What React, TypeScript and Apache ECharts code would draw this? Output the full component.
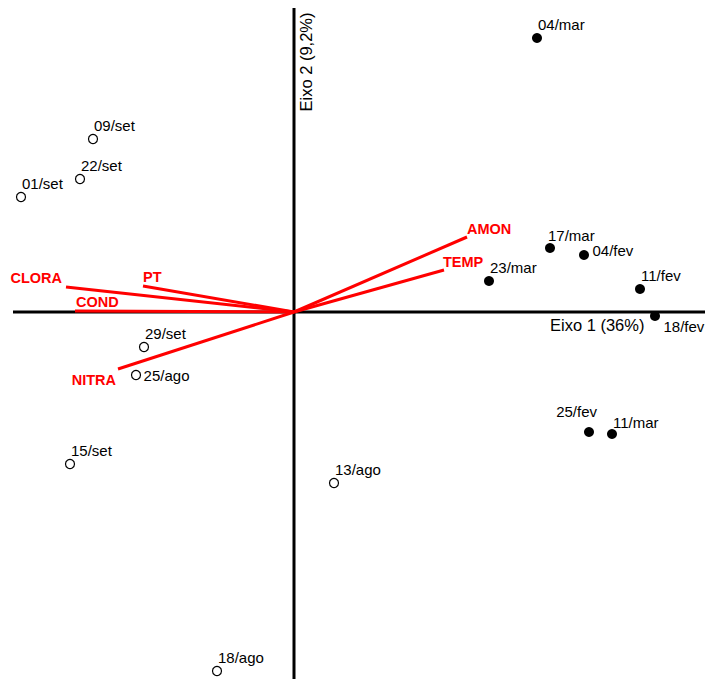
import React, { useEffect, useRef } from "react";
import * as echarts from "echarts";

// Sample scores (Eixo 1, Eixo 2)
const openNames = ["09/set", "22/set", "01/set", "29/set", "25/ago", "15/set", "13/ago", "18/ago"];
const openX = [-2.01, -2.14, -2.73, -1.5, -1.58, -2.24, 0.4, -0.77];
const openY = [1.73, 1.33, 1.15, -0.35, -0.63, -1.52, -1.71, -3.59];

const filledNames = ["04/mar", "17/mar", "04/fev", "23/mar", "11/fev", "18/fev", "25/fev", "11/mar"];
const filledX = [2.43, 2.56, 2.9, 1.95, 3.46, 3.61, 2.95, 3.18];
const filledY = [2.74, 0.64, 0.57, 0.31, 0.23, -0.04, -1.2, -1.22];

// Variable vectors
const varNames = ["CLORA", "PT", "COND", "NITRA", "AMON", "TEMP"];
const varX = [-2.28, -1.51, -2.19, -1.76, 1.73, 1.5];
const varY = [0.25, 0.26, 0.01, -0.57, 0.75, 0.42];

// Axis extents
const xRange = [-2.94, 4.11];
const yRange = [-3.67, 3.12];
const hAxisLine = [[-2.81, 0], [4.11, 0]];
const vAxisLine = [[0, 3.04], [0, -3.67]];

const axisTitles = ["Eixo 1 (36%)", "Eixo 2 (9,2%)"];

const FONT = "'Liberation Sans', Arial, sans-serif";

// label placements (style, kept apart from data)
const pointLabelStyle: Record<string, any> = {
  "25/ago": { position: "right", distance: 2.5, align: "left", offset: [0, 0] },
  "04/fev": { position: "right", distance: 3.5, align: "left", offset: [0, -5] },
  "18/fev": { position: "right", distance: 3.5, align: "left", offset: [0, 10] },
  "25/fev": { position: "top", distance: 1, align: "right", offset: [8, -7] },
  "11/mar": { position: "top", distance: 1, align: "left", offset: [1, 2] },
  "17/mar": { position: "top", distance: 1, align: "left", offset: [-2, 1] },
};
const defaultPointLabel = { position: "top", distance: 1, align: "left", offset: [1, 0] };

const varLabelStyle: Record<string, any> = {
  CLORA: { position: "top", align: "right", offset: [-4, -2] },
  PT: { position: "top", align: "left", offset: [0, -2] },
  COND: { position: "top", align: "left", offset: [1, -2] },
  NITRA: { position: "bottom", align: "right", offset: [-2, 3] },
  AMON: { position: "top", align: "left", offset: [0, -1] },
  TEMP: { position: "top", align: "left", offset: [-1, -1] },
};

function pointData(names: string[], xs: number[], ys: number[]) {
  return names.map((n, i) => {
    const ls = pointLabelStyle[n] || defaultPointLabel;
    return {
      name: n,
      value: [xs[i], ys[i]],
      label: {
        show: true,
        formatter: n,
        position: ls.position,
        distance: ls.distance,
        align: ls.align,
        verticalAlign: ls.position === "top" ? "bottom" : "middle",
        offset: ls.offset,
        color: "#000",
        opacity: 1,
        fontSize: 15,
        fontFamily: FONT,
      },
    };
  });
}

export default function App() {
  const ref = useRef<HTMLDivElement>(null);
  useEffect(() => {
    document.body.style.margin = "0";
    if (!ref.current) return;
    const chart = echarts.init(ref.current, null, { renderer: "svg" });

    const vectorSeries = varNames.map((n, i) => ({
      type: "line",
      name: n,
      data: [[0, 0], [varX[i], varY[i]]],
      symbol: "none",
      lineStyle: { color: "#ff0000", width: 3, opacity: 1 },
      z: 3,
      silent: true,
    }));

    const option: any = {
      animation: false,
      backgroundColor: "#ffffff",
      grid: { left: 0, right: 0, top: 0, bottom: 0, containLabel: false },
      xAxis: { type: "value", min: xRange[0], max: xRange[1], show: false },
      yAxis: { type: "value", min: yRange[0], max: yRange[1], show: false },
      graphic: [
        {
          type: "text",
          x: 550,
          y: 325,
          style: {
            text: axisTitles[0],
            fontSize: 16.5,
            fontFamily: FONT,
            fill: "#000",
            align: "left",
            verticalAlign: "middle",
          },
          z: 10,
        },
        {
          type: "text",
          x: 306,
          y: 62,
          rotation: Math.PI / 2,
          style: {
            text: axisTitles[1],
            fontSize: 16.5,
            fontFamily: FONT,
            fill: "#000",
            align: "center",
            verticalAlign: "middle",
          },
          z: 10,
        },
      ],
      series: [
        {
          type: "line",
          data: hAxisLine,
          symbol: "none",
          lineStyle: { color: "#000", width: 3 },
          z: 2,
          silent: true,
        },
        {
          type: "line",
          data: vAxisLine,
          symbol: "none",
          lineStyle: { color: "#000", width: 3 },
          z: 2,
          silent: true,
        },
        ...vectorSeries,
        {
          type: "scatter",
          data: varNames.map((n, i) => {
            const ls = varLabelStyle[n];
            return {
              name: n,
              value: [varX[i], varY[i]],
              label: {
                show: true,
                formatter: n,
                position: ls.position,
                distance: 0,
                align: ls.align,
                verticalAlign: ls.position === "top" ? "bottom" : "top",
                offset: ls.offset,
                color: "#ff0000",
                opacity: 1,
                fontWeight: "bold",
                fontSize: 14.5,
                fontFamily: FONT,
              },
            };
          }),
          symbolSize: 0,
          itemStyle: { opacity: 1 },
          z: 4,
          silent: true,
        },
        {
          type: "scatter",
          data: pointData(openNames, openX, openY),
          symbol: "circle",
          symbolSize: 9,
          itemStyle: { color: "#fff", borderColor: "#000", borderWidth: 1.2, opacity: 1 },
          z: 5,
          silent: true,
        },
        {
          type: "scatter",
          data: pointData(filledNames, filledX, filledY),
          symbol: "circle",
          symbolSize: 10,
          itemStyle: { color: "#000", opacity: 1 },
          z: 5,
          silent: true,
        },
      ],
    };
    chart.setOption(option);
    return () => chart.dispose();
  }, []);
  return <div ref={ref} style={{ width: 705, height: 679 }} />;
}
